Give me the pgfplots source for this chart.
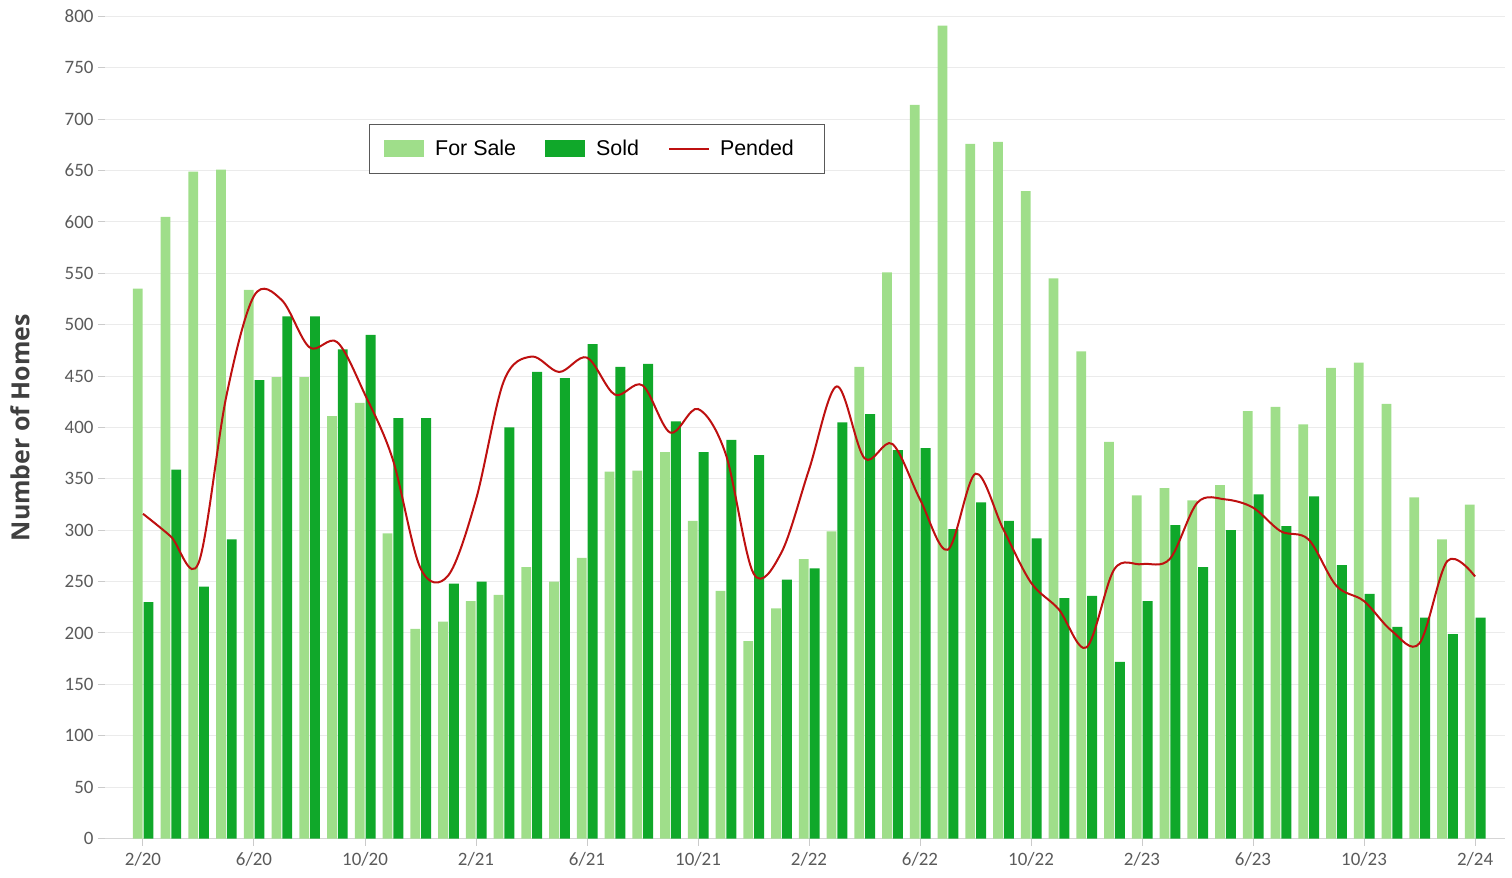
\documentclass[border=0pt]{standalone}
\usepackage{pgfplots}
\pgfplotsset{compat=1.18}
\usepackage{pgfplotstable}
\usepackage{fontspec}
\setmainfont{Carlito}
\newfontfamily\legfont{Liberation Sans}
\newfontfamily\ylabfont{Open Sans}
\definecolor{forsale}{HTML}{9FDE8A}
\definecolor{sold}{HTML}{10A82A}
\definecolor{pended}{HTML}{BE1010}
\definecolor{gridc}{HTML}{EBEBEB}
\definecolor{tickc}{HTML}{5A5A5A}
\definecolor{labc}{HTML}{404040}

\pgfplotstableread{
i fs sold pend
0 535 230 316
1 605 359 294
2 649 245 268
3 651 291 430
4 534 446 528
5 449 508 524
6 449 508 478
7 411 476 483
8 424 490 432
9 297 409 369
10 204 409 263
11 211 248 256
12 231 250 330
13 237 400 445
14 264 454 469
15 250 448 454
16 273 481 468
17 357 459 432
18 358 462 441
19 376 406 395
20 309 376 418
21 241 388 374
22 192 373 258
23 224 252 278
24 272 263 359
25 299 405 440
26 459 413 370
27 551 378 384
28 714 380 330
29 791 301 281
30 676 327 355
31 678 309 301
32 630 292 249
33 545 234 223
34 474 236 186
35 386 172 262
36 334 231 267
37 341 305 272
38 329 264 327
39 344 300 330
40 416 335 322
41 420 304 299
42 403 333 291
43 458 266 246
44 463 238 231
45 423 206 202
46 332 215 190
47 291 199 270
48 325 215 255
}\datatable

\begin{document}
\begin{tikzpicture}
\begin{axis}[
  name=ax,
  scale only axis,
  width=1400bp, height=838.5bp,
  xmin=-1.369, xmax=49.08,
  ymin=0, ymax=816,
  axis x line*=bottom, axis y line*=left,
  x axis line style={draw=gridc!80!gray, line width=1bp},
  y axis line style={draw=none},
  xtick={0,4,...,48},
  xticklabels={2/20,6/20,10/20,2/21,6/21,10/21,2/22,6/22,10/22,2/23,6/23,10/23,2/24},
  ytick={0,50,...,800},
  ymajorgrids, grid style={draw=gridc, line width=1bp},
  tick align=outside,
  major tick length=7bp,
  tick style={draw=gridc!70!gray, line width=1bp},
  ticklabel style={font=\fontsize{19}{22}\selectfont, text=tickc},
  xticklabel style={yshift=-3bp},
  yticklabel style={xshift=-1bp},
  /pgf/number format/assume math mode=true,
  ylabel={Number of Homes},
  every axis y label/.style={at={(axis description cs:-0.0607,0.49)}, rotate=90, anchor=center,
     font=\ylabfont\bfseries\fontsize{25}{28}\selectfont, text=labc},
  legend columns=3,
  legend style={at={(axis description cs:0.1886,0.8527)}, anchor=north west,
     draw=black!65, line width=1.4bp, fill=white,
     font=\legfont\fontsize{21.5}{24}\selectfont,
     inner xsep=14.5bp, inner ysep=14bp,
     /tikz/every even column/.append style={column sep=27bp}},
  clip=false,
]
\addplot[ybar, bar width=9.8bp, bar shift=-5.3bp, fill=forsale, draw=none,
  legend image code/.code={\fill[forsale] (0bp,-8.5bp) rectangle (40bp,8.5bp); \path[draw=none,fill=none] (0bp,0bp) -- (49bp,0bp);}]
  table[x=i, y=fs] {\datatable};
\addlegendentry{For Sale}
\addplot[ybar, bar width=9.8bp, bar shift=5.6bp, fill=sold, draw=none,
  legend image code/.code={\fill[sold] (0bp,-8.5bp) rectangle (40bp,8.5bp); \path[draw=none,fill=none] (0bp,0bp) -- (49bp,0bp);}]
  table[x=i, y=sold] {\datatable};
\addlegendentry{Sold}
\addplot[smooth, tension=0.55, color=pended, line width=2bp, mark=none,
  legend image code/.code={\draw[pended, line width=2bp] (0bp,0bp) -- (40bp,0bp); \path[draw=none,fill=none] (0bp,-8.5bp) -- (49bp,8.5bp);}]
  table[x=i, y=pend] {\datatable};
\addlegendentry{Pended\rule{14bp}{0pt}}
\end{axis}
\pgfresetboundingbox
\path[use as bounding box] ([xshift=-105bp,yshift=-39bp]ax.south west) rectangle ([xshift=7bp]ax.north east);
\end{tikzpicture}
\end{document}
